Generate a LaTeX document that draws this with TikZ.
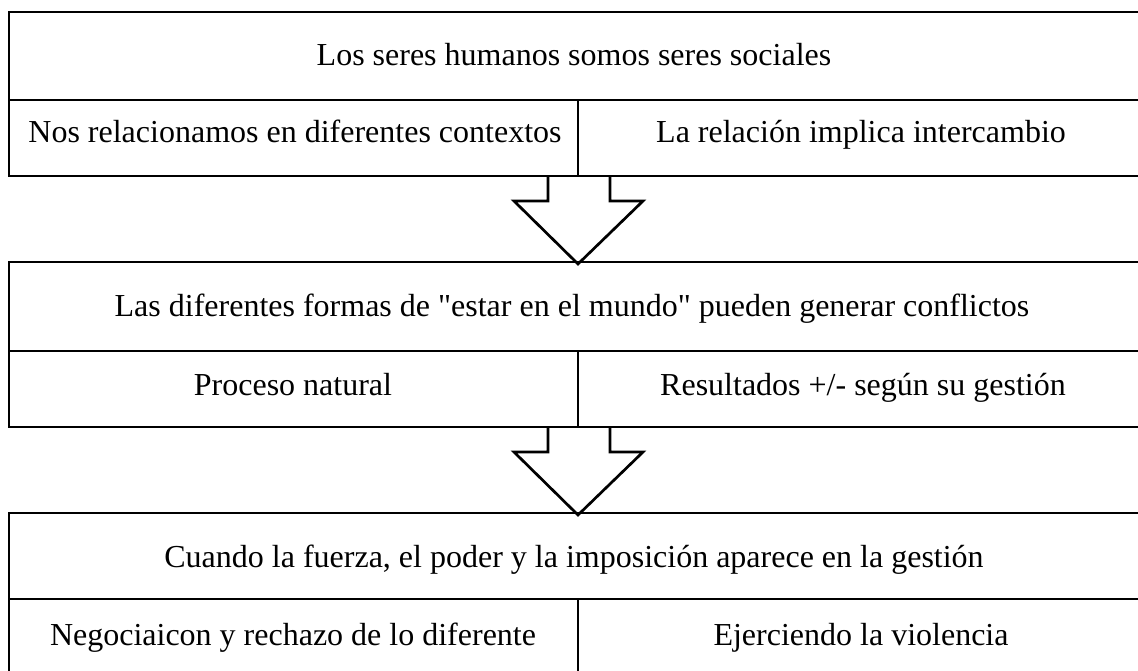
\documentclass[tikz,border=0pt]{standalone}
\usepackage{fontspec}
\setmainfont{Liberation Serif}[Ligatures=TeXOff]
\usetikzlibrary{positioning}

\begin{document}
\begin{tikzpicture}[x=1pt, y=-1pt, line width=2.7pt,
    txt/.style={anchor=base, inner sep=0pt, font=\fontsize{32}{38}\selectfont}]
  \useasboundingbox (0, 0) rectangle (1138, 671);
  % first block
  \draw (9, 12) rectangle (1141, 176);
  \draw (9, 100) -- (1141, 100);
  \draw (578, 100) -- (578, 176);
  \node[txt] (seres) at (574, 66) {Los seres humanos somos seres sociales};
  \node[txt] (contextos) at (295, 143) {Nos relacionamos en diferentes contextos};
  \node[txt] (intercambio) at (861, 143) {La relación implica intercambio};
  % second block
  \draw (9, 262) rectangle (1141, 427);
  \draw (9, 351) -- (1141, 351);
  \draw (578, 351) -- (578, 427);
  \node[txt] (formas) at (572, 316) {Las diferentes formas de "estar en el mundo" pueden generar conflictos};
  \node[txt] (natural) at (293, 395) {Proceso natural};
  \node[txt] (gestion) at (863, 395) {Resultados +/- según su gestión};
  % third block
  \draw (9, 513) rectangle (1141, 680);
  \draw (9, 599) -- (1141, 599);
  \draw (578, 599) -- (578, 680);
  \node[txt] (fuerza) at (574, 567) {Cuando la fuerza, el poder y la imposición aparece en la gestión};
  \node[txt] (rechazo) at (293, 645) {Negociaicon y rechazo de lo diferente};
  \node[txt] (violencia) at (861, 645) {Ejerciendo la violencia};
  % block arrows
  \foreach \y in {176, 427} {
    \draw[line join=miter] (548, \y) -- (548, \y + 25) -- (514, \y + 25)
      -- (578, \y + 88) -- (643, \y + 25) -- (610, \y + 25) -- (610, \y);
  }
\end{tikzpicture}
\end{document}
